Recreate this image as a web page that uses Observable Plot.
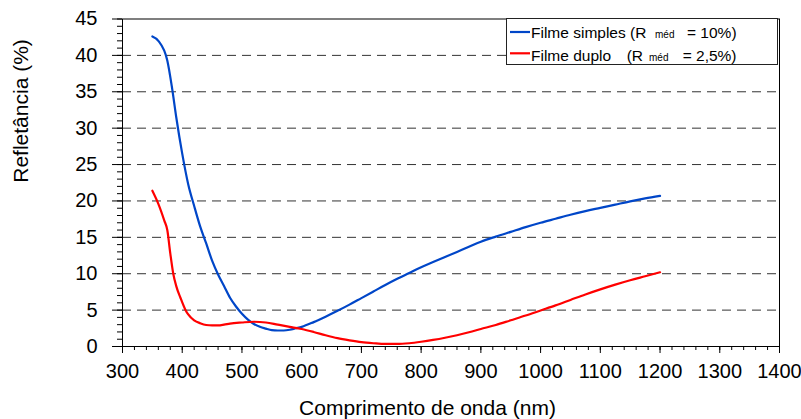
<!DOCTYPE html>
<html><head><meta charset="utf-8">
<script src="https://cdn.jsdelivr.net/npm/d3@7"></script>
<script src="https://cdn.jsdelivr.net/npm/@observablehq/plot@0.6"></script>
<style>
body{margin:0;background:#fff}
#wrap{position:relative;width:801px;height:419px;font-family:"Liberation Sans",Arial,sans-serif}
#legend{position:absolute;left:506px;top:18px}
</style>
</head><body><div id="wrap"></div>
<script>
// Filme simples (blue)
const nmSimples = [350,360,375,383,390,400,410,420,430,440,450,460,470,480,490,500,510,520,530,540,550,560,570,580,590,600,620,640,660,680,700,720,740,760,780,800,820,840,860,880,900,925,950,975,1000,1025,1050,1075,1100,1125,1150,1175,1200];
const rSimples = [42.6,42.0,39.3,35.5,31.5,26.5,22.3,19.3,16.5,14.2,11.8,9.9,8.3,6.7,5.5,4.5,3.7,3.1,2.7,2.45,2.25,2.2,2.2,2.3,2.5,2.7,3.35,4.1,4.9,5.75,6.65,7.55,8.45,9.3,10.1,10.9,11.6,12.3,13.0,13.7,14.4,15.1,15.75,16.4,17.0,17.55,18.1,18.6,19.05,19.5,19.95,20.35,20.7];
// Filme duplo (red)
const nmDuplo = [350,360,370,375,380,385,390,397,405,410,420,430,440,450,460,470,480,500,520,540,560,580,600,620,640,660,680,700,720,740,760,780,800,820,840,860,880,900,925,950,975,1000,1025,1050,1075,1100,1125,1150,1175,1200];
const rDuplo = [21.4,19.6,17.3,16.0,12.8,10.0,8.3,6.7,5.1,4.4,3.6,3.2,2.95,2.9,2.9,3.0,3.15,3.3,3.4,3.3,3.0,2.7,2.4,2.0,1.55,1.15,0.85,0.6,0.45,0.35,0.35,0.45,0.65,0.9,1.2,1.55,1.95,2.4,2.95,3.6,4.25,4.95,5.65,6.4,7.15,7.85,8.5,9.1,9.65,10.2];

const seriesNames = ["Filme simples", "Filme duplo"];
const seriesColors = ["#0046c8", "#ff0000"];
const rMedLabels = ["= 10%)", "= 2,5%)"];
const xMajorTicks = [300,400,500,600,700,800,900,1000,1100,1200,1300,1400];
const xMinorTicks = d3.range(300, 1401, 20);
const yMajorTicks = [0,5,10,15,20,25,30,35,40,45];
const yMinorTicks = d3.range(0, 46, 1);
const gridValues = [5,10,15,20,25,30,35,40];
const xTitle = "Comprimento de onda (nm)";
const yTitle = "Refletância (%)";

const data = [
  ...nmSimples.map((x, i) => ({x, y: rSimples[i], s: seriesNames[0]})),
  ...nmDuplo.map((x, i) => ({x, y: rDuplo[i], s: seriesNames[1]}))
];

const chart = Plot.plot({
  width: 801, height: 419,
  marginLeft: 122, marginRight: 22, marginTop: 18.5, marginBottom: 73,
  style: {fontFamily: '"Liberation Sans", Arial, sans-serif', fontSize: "20px", color: "#000", background: "#fff"},
  x: {domain: [300, 1400]},
  y: {domain: [0, 45]},
  color: {domain: seriesNames, range: seriesColors},
  marks: [
    Plot.ruleY(gridValues, {stroke: "#333", strokeDasharray: "9,6", strokeWidth: 1}),
    Plot.axisX(xMinorTicks, {tickSize: 4, tickFormat: () => "", label: null}),
    Plot.axisX(xMajorTicks, {tickSize: 7, tickPadding: 10, tickFormat: d => String(d), label: null}),
    Plot.axisY(yMinorTicks, {tickSize: 5, tickFormat: () => "", label: null}),
    Plot.axisY(yMajorTicks, {tickSize: 10, tickPadding: 15, tickFormat: d => String(d), label: null}),
    Plot.line(data, {x: "x", y: "y", z: "s", stroke: "s", strokeWidth: 2.2, curve: "monotone-x"}),
    Plot.frame({stroke: "#000", strokeWidth: 1}),
    Plot.text([xTitle], {frameAnchor: "bottom", dx: -23.5, dy: 62, lineAnchor: "middle", fontSize: 21}),
    Plot.text([yTitle], {frameAnchor: "left", dx: -101, rotate: -90, lineAnchor: "middle", fontSize: 21})
  ]
});
const wrap = document.getElementById("wrap");
wrap.appendChild(chart);

// Legend
const ns = "http://www.w3.org/2000/svg";
const lg = document.createElementNS(ns, "svg");
lg.setAttribute("id", "legend");
lg.setAttribute("width", 273);
lg.setAttribute("height", 48);
lg.style.fontFamily = '"Liberation Sans", Arial, sans-serif';
function el(tag, attrs, text) {
  const e = document.createElementNS(ns, tag);
  for (const k in attrs) e.setAttribute(k, attrs[k]);
  if (text != null) e.textContent = text;
  lg.appendChild(e);
  return e;
}
el("rect", {x: 0.5, y: 0.5, width: 271, height: 46, fill: "#fff", stroke: "#222", "stroke-width": 1});
const rows = [
  {ly: 14, by: 20.3, parts: [[25, seriesNames[0] + " (R", 15.5], [149, "méd", 10], [181, rMedLabels[0], 15.5]]},
  {ly: 35.3, by: 42.7, parts: [[25, seriesNames[1], 15.5], [120.7, "(R", 15.5], [143, "méd", 10], [176.7, rMedLabels[1], 15.5]]}
];
rows.forEach((r, i) => {
  el("line", {x1: 4, x2: 24, y1: r.ly, y2: r.ly, stroke: seriesColors[i], "stroke-width": 2.2});
  r.parts.forEach(([x, t, fs]) => el("text", {x, y: r.by, "font-size": fs, fill: "#000"}, t));
});
wrap.appendChild(lg);
</script>
</body></html>
